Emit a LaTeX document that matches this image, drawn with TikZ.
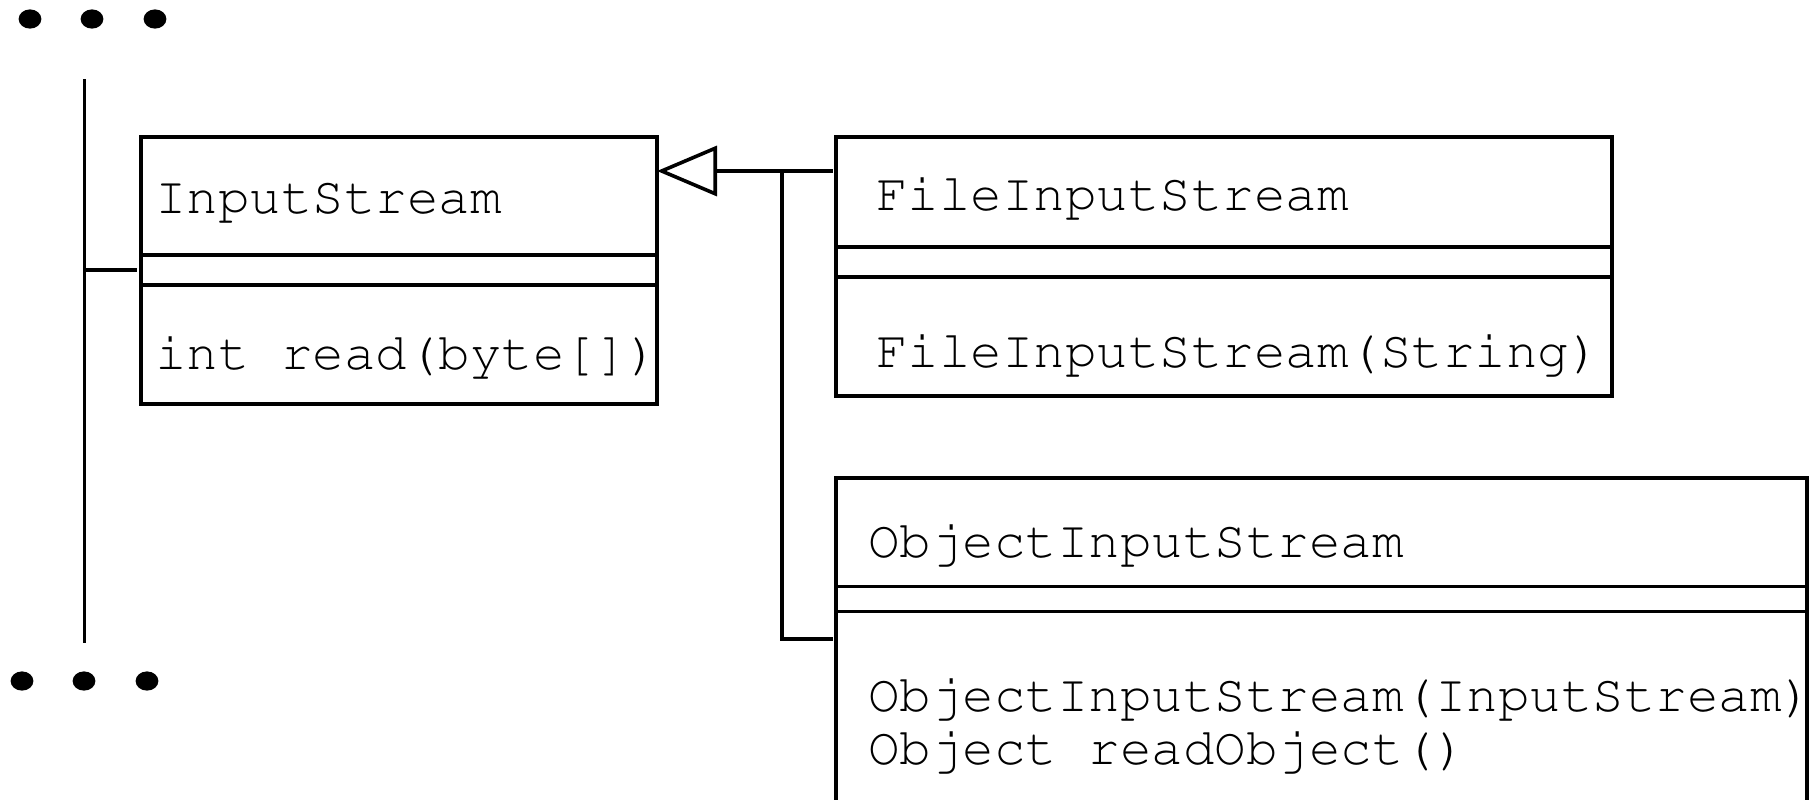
\documentclass[tikz,border=0pt]{standalone}
\usepackage[T1]{fontenc}
\usetikzlibrary{arrows.meta}
\newcommand\umlfont{\fontencoding{T1}\fontfamily{pcr}\fontsize{26.25pt}{26.65pt}\selectfont}

\tikzset{
  umlpart/.style={draw, line width=1.8pt, inner sep=0pt, outer sep=0pt, anchor=north west},
  member/.style={anchor=base west, inner sep=0pt, align=left, font=\umlfont},
  link/.style={line width=1.8pt},
}

\begin{document}
\begin{tikzpicture}[x=0.5pt,y=-0.5pt]
\useasboundingbox (0,0) rectangle (1816,799);
\clip (0,0) rectangle (1816,799);

% dots above and below the bar
\foreach \x in {30,92,155} \fill (\x,19) ellipse [x radius=5.7pt, y radius=4.8pt];
\foreach \x in {22,84,147} \fill (\x,681) ellipse [x radius=5.7pt, y radius=4.8pt];

\coordinate (bartop) at (84.5,79);
\coordinate (barbot) at (84.5,643);
\draw[link] (bartop) -- (barbot);

% InputStream
\node[umlpart, minimum width=258pt, minimum height=59pt] (in-name) at (141,137) {};
\node[umlpart, minimum width=258pt, minimum height=15pt] (in-attr) at (in-name.south west) {};
\node[umlpart, minimum width=258pt, minimum height=59.5pt] (in-ops) at (in-attr.south west) {};
\node[member] (in-title) at ([shift={(14,76)}]in-name.north west) {InputStream};
\node[member] (in-read) at ([shift={(14,84.5)}]in-ops.north west) {int read(byte[])};

% FileInputStream
\node[umlpart, minimum width=388pt, minimum height=55pt] (fis-name) at (836,137) {};
\node[umlpart, minimum width=388pt, minimum height=15pt] (fis-attr) at (fis-name.south west) {};
\node[umlpart, minimum width=388pt, minimum height=59.6pt] (fis-ops) at (fis-attr.south west) {};
\node[member] (fis-title) at ([shift={(40,73)}]fis-name.north west) {FileInputStream};
\node[member] (fis-ctor) at ([shift={(40,90)}]fis-ops.north west) {FileInputStream(String)};

% ObjectInputStream, base sits on the last line
\node[umlpart, minimum width=485.5pt, minimum height=54.3pt] (ois-name) at (836,478) {};
\node[umlpart, minimum width=485.5pt, minimum height=12.5pt] (ois-attr) at (ois-name.south west) {};
\node[umlpart, minimum width=485.5pt, minimum height=110pt] (ois-ops) at (ois-attr.south west) {};
\node[member] (ois-title) at ([shift={(32,79)}]ois-name.north west) {ObjectInputStream};
\node[member] (ois-methods) at ([shift={(32,153.3)}]ois-ops.north west)
  {ObjectInputStream(InputStream)\\Object readObject()};

% bar to InputStream
\draw[link, shorten >=2pt] (bartop |- in-attr.west) -- (in-attr.west);

% generalisation
\coordinate (gen) at (782,171);
\coordinate (ojoin) at (833,639);
\draw[link, shorten <=1.6pt, -{Triangle[open, length=30pt, width=25pt]}]
  (fis-name.west |- gen) -- (in-name.east |- gen);
\draw[link] (gen) |- (ojoin);
\end{tikzpicture}
\end{document}
